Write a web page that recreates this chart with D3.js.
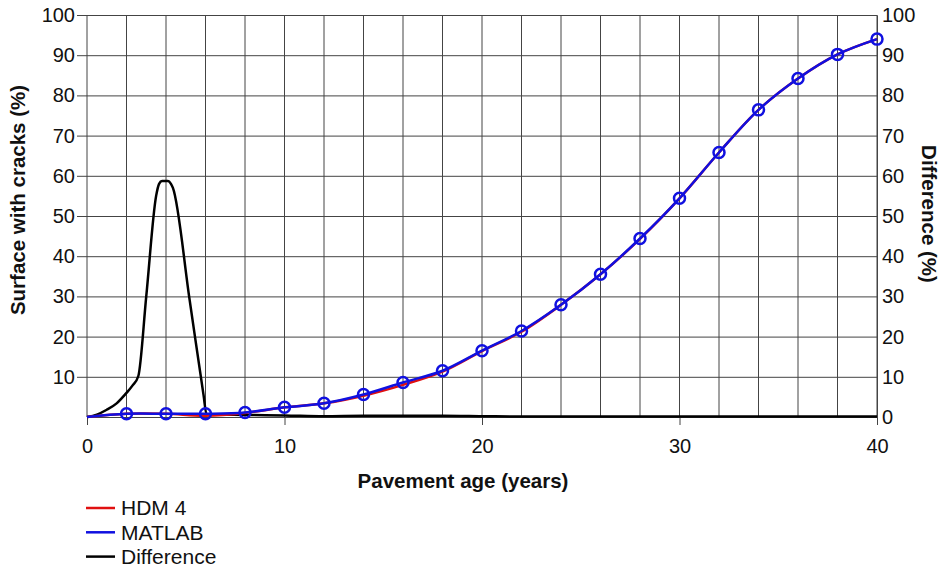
<!DOCTYPE html>
<html>
<head>
<meta charset="utf-8">
<script src="https://cdn.jsdelivr.net/npm/d3@7"></script>
<style>
  body { margin: 0; background: #fff; }
  svg text { font-family: "Liberation Sans", Arial, sans-serif; fill: #111; }
</style>
</head>
<body>
<svg id="chart_svg"></svg>
<script>
// pavement age (years) sampled every 2 years
const years = [0, 2, 4, 6, 8, 10, 12, 14, 16, 18, 20, 22, 24, 26, 28, 30, 32, 34, 36, 38, 40];
const hdm4Values = [0, 0.8, 0.8, 0.3, 1.0, 2.4, 3.4, 5.3, 8.0, 11.3, 16.4, 21.2, 27.9, 35.5, 44.3, 54.4, 65.8, 76.4, 84.2, 90.2, 94.0];
const matlabValues = [0, 0.8, 0.8, 0.8, 1.1, 2.4, 3.4, 5.6, 8.6, 11.5, 16.5, 21.4, 27.9, 35.5, 44.4, 54.4, 65.8, 76.4, 84.2, 90.2, 94.0];
// difference curve (finer sampling around the peak)
const diffYears = [0, 0.5, 1, 1.5, 2, 2.3, 2.6, 3.0, 3.5, 3.65, 3.8, 4.1, 4.25, 4.35, 5.2, 5.9, 6.05, 7, 8, 10, 12, 14, 16, 18, 20, 22, 26, 30, 34, 38, 40];
const diffValues = [0, 0.6, 1.8, 3.4, 6.0, 7.8, 10.2, 30, 55, 58, 58.7, 58.7, 58, 57, 29, 5.5, 0.7, 0.6, 0.5, 0.4, 0.2, 0.3, 0.3, 0.3, 0.2, 0.1, 0.1, 0.1, 0.1, 0.1, 0.1];
const xTicks = [0, 10, 20, 30, 40];
const xGrid = d3.range(0, 41, 2);
const yTicksLeft = [10, 20, 30, 40, 50, 60, 70, 80, 90, 100];
const yTicksRight = [0, 10, 20, 30, 40, 50, 60, 70, 80, 90, 100];

const width = 947, height = 572;
const margin = { top: 15, right: 70, bottom: 155, left: 87 };
const innerW = width - margin.left - margin.right;
const innerH = height - margin.top - margin.bottom;

const svg = d3.select("#chart_svg").attr("width", width).attr("height", height);
const g = svg.append("g").attr("transform", `translate(${margin.left}, ${margin.top})`);

const x = d3.scaleLinear().domain([0, 40]).range([0, innerW]);
const y = d3.scaleLinear().domain([0, 100]).range([innerH, 0]);

const gridColor = "#444";

// vertical grid
g.append("g")
  .selectAll("line")
  .data(xGrid)
  .enter()
  .append("line")
  .attr("x1", (d) => x(d))
  .attr("x2", (d) => x(d))
  .attr("y1", 0)
  .attr("y2", innerH)
  .attr("stroke", gridColor)
  .attr("stroke-width", 1);

// left axis: grid lines with a short tick to the left
g.append("g")
  .attr("class", "axis axis--y")
  .call(d3.axisLeft(y).tickValues(yTicksLeft).tickSize(10).tickPadding(2))
  .call((a) => a.select(".domain").remove())
  .call((a) => a.selectAll(".tick line").attr("x2", innerW).attr("x1", -10).attr("stroke", gridColor))
  .call((a) => a.selectAll(".tick text").attr("font-size", "20px").attr("fill", "#111"));

// right axis
g.append("g")
  .attr("class", "axis axis--y2")
  .attr("transform", `translate(${innerW}, 0)`)
  .call(d3.axisRight(y).tickValues(yTicksRight).tickSize(0).tickPadding(5))
  .call((a) => a.select(".domain").attr("stroke", gridColor))
  .call((a) => a.selectAll(".tick text").attr("font-size", "20px").attr("fill", "#111"));

// bottom axis
g.append("g")
  .attr("class", "axis axis--x")
  .attr("transform", `translate(0, ${innerH})`)
  .call(d3.axisBottom(x).tickValues(xTicks).tickSize(8).tickPadding(14))
  .call((a) => a.select(".domain").attr("stroke", gridColor))
  .call((a) => a.selectAll(".tick line").attr("stroke", gridColor))
  .call((a) => a.selectAll(".tick text").attr("font-size", "20px").attr("fill", "#111"));

// axis titles
svg.append("text")
  .attr("transform", "translate(463, 488)")
  .attr("text-anchor", "middle")
  .attr("font-size", "20.5px")
  .attr("font-weight", "bold")
  .text("Pavement age (years)");

svg.append("text")
  .attr("transform", "translate(18, 200) rotate(-90)")
  .attr("text-anchor", "middle")
  .attr("dy", "0.35em")
  .attr("font-size", "20.5px")
  .attr("font-weight", "bold")
  .text("Surface with cracks (%)");

svg.append("text")
  .attr("transform", "translate(929, 214) rotate(90)")
  .attr("text-anchor", "middle")
  .attr("dy", "0.35em")
  .attr("font-size", "20.5px")
  .attr("font-weight", "bold")
  .text("Difference (%)");

// difference line
g.append("path")
  .datum(diffYears.map((d, i) => [d, diffValues[i]]))
  .attr("fill", "none")
  .attr("stroke", "#000")
  .attr("stroke-width", 2.5)
  .attr("stroke-linejoin", "round")
  .attr("d", d3.line().x((d) => x(d[0])).y((d) => y(d[1])).curve(d3.curveMonotoneX));

const smooth = d3.curveCatmullRom.alpha(0.5);

// HDM 4 line
g.append("path")
  .datum(years.map((d, i) => [d, hdm4Values[i]]))
  .attr("fill", "none")
  .attr("stroke", "#e01010")
  .attr("stroke-width", 2.5)
  .attr("d", d3.line().x((d) => x(d[0])).y((d) => y(d[1])).curve(smooth));

// MATLAB line
const matlabData = years.map((d, i) => [d, matlabValues[i]]);
g.append("path")
  .datum(matlabData)
  .attr("fill", "none")
  .attr("stroke", "#1010e0")
  .attr("stroke-width", 2.5)
  .attr("d", d3.line().x((d) => x(d[0])).y((d) => y(d[1])).curve(smooth));

g.selectAll(".matlab_circle")
  .data(matlabData.filter((d) => d[0] > 0))
  .enter()
  .append("circle")
  .attr("class", "matlab_circle")
  .attr("r", 5.5)
  .attr("fill", "none")
  .attr("stroke", "#1010e0")
  .attr("stroke-width", 2.5)
  .attr("cx", (d) => x(d[0]))
  .attr("cy", (d) => y(d[1]));

// legend
const legendItems = [
  { name: "HDM 4", color: "#e01010" },
  { name: "MATLAB", color: "#1010e0" },
  { name: "Difference", color: "#000" },
];
const legend = svg.append("g").attr("transform", "translate(86, 508)");
legendItems.forEach((item, i) => {
  const row = legend.append("g").attr("transform", `translate(0, ${i * 24.3})`);
  row.append("line")
    .attr("x1", 0).attr("x2", 29)
    .attr("y1", 0).attr("y2", 0)
    .attr("stroke", item.color)
    .attr("stroke-width", 2.5);
  row.append("text")
    .attr("x", 35)
    .attr("dy", "0.35em")
    .attr("font-size", "21px")
    .text(item.name);
});
</script>
</body>
</html>
